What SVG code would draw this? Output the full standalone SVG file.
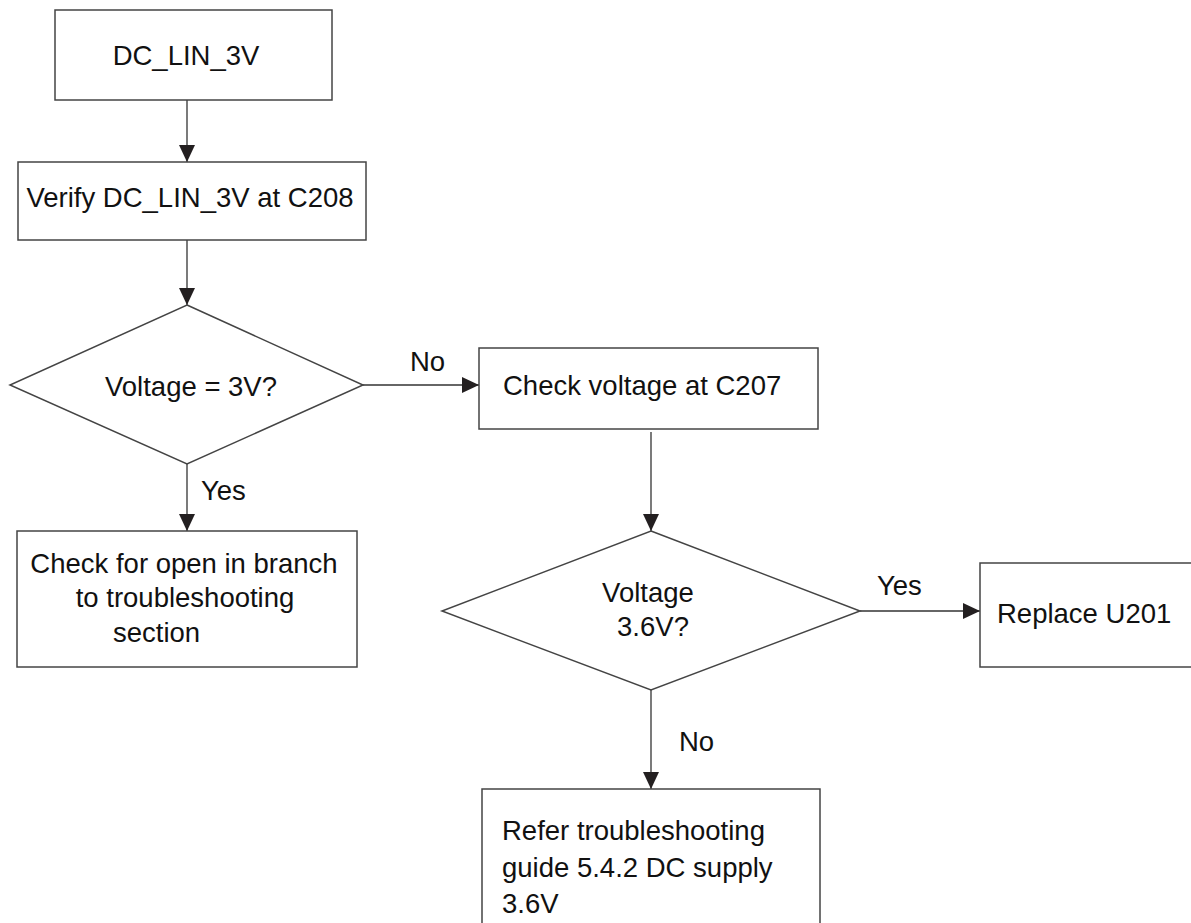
<svg xmlns="http://www.w3.org/2000/svg" width="1191" height="923" viewBox="0 0 1191 923">
<style>
.box{fill:#fff;stroke:#444;stroke-width:1.5}
.t{font-family:"Liberation Sans",Arial,sans-serif;font-size:27.5px;fill:#111}
.c{text-anchor:middle}
.ln{fill:none;stroke:#333;stroke-width:1.3}
</style>
<defs>
<marker id="ah" markerUnits="userSpaceOnUse" markerWidth="18" markerHeight="16" refX="17" refY="8" orient="auto" viewBox="0 0 18 16">
<path d="M0,0 L17,8 L0,16 Z" fill="#231f20"/>
</marker>
</defs>
<rect width="1191" height="923" fill="#fff"/>
<g id="connectors">
<line class="ln" x1="187" y1="100" x2="187" y2="162" marker-end="url(#ah)"/>
<line class="ln" x1="187" y1="240" x2="187" y2="305" marker-end="url(#ah)"/>
<line class="ln" x1="363" y1="385" x2="479" y2="385" marker-end="url(#ah)"/>
<line class="ln" x1="187" y1="464" x2="187" y2="531" marker-end="url(#ah)"/>
<line class="ln" x1="651" y1="432" x2="651" y2="531" marker-end="url(#ah)"/>
<line class="ln" x1="860" y1="611" x2="980" y2="611" marker-end="url(#ah)"/>
<line class="ln" x1="651" y1="690" x2="651" y2="789" marker-end="url(#ah)"/>
<text class="t" x="410" y="371">No</text>
<text class="t" x="201" y="500">Yes</text>
<text class="t" x="877" y="595">Yes</text>
<text class="t" x="679" y="751">No</text>
</g>
<g id="n1">
<rect class="box" x="55" y="10" width="277" height="90"/>
<text class="t c" x="186" y="65">DC_LIN_3V</text>
</g>
<g id="n2">
<rect class="box" x="18" y="162" width="348" height="78"/>
<text class="t c" x="190" y="207">Verify DC_LIN_3V at C208</text>
</g>
<g id="d1">
<polygon class="box" points="187,305 363,385 187,464 10,385"/>
<text class="t c" x="191" y="396">Voltage = 3V?</text>
</g>
<g id="n3">
<rect class="box" x="479" y="348" width="339" height="81"/>
<text class="t" x="503" y="395">Check voltage at C207</text>
</g>
<g id="n4">
<rect class="box" x="17" y="531" width="340" height="136"/>
<text class="t c" x="184" y="573">Check for open in branch</text>
<text class="t c" x="185" y="607">to troubleshooting</text>
<text class="t" x="113" y="642">section</text>
</g>
<g id="d2">
<polygon class="box" points="651,531 860,611 651,690 442,611"/>
<text class="t c" x="648" y="602">Voltage</text>
<text class="t c" x="653" y="636">3.6V?</text>
</g>
<g id="n5">
<rect class="box" x="980" y="563" width="220" height="104"/>
<text class="t" x="997" y="623">Replace U201</text>
</g>
<g id="n6">
<rect class="box" x="482" y="789" width="338" height="150"/>
<text class="t" x="502" y="840">Refer troubleshooting</text>
<text class="t" x="502" y="877">guide 5.4.2 DC supply</text>
<text class="t" x="502" y="913">3.6V</text>
</g>
</svg>
